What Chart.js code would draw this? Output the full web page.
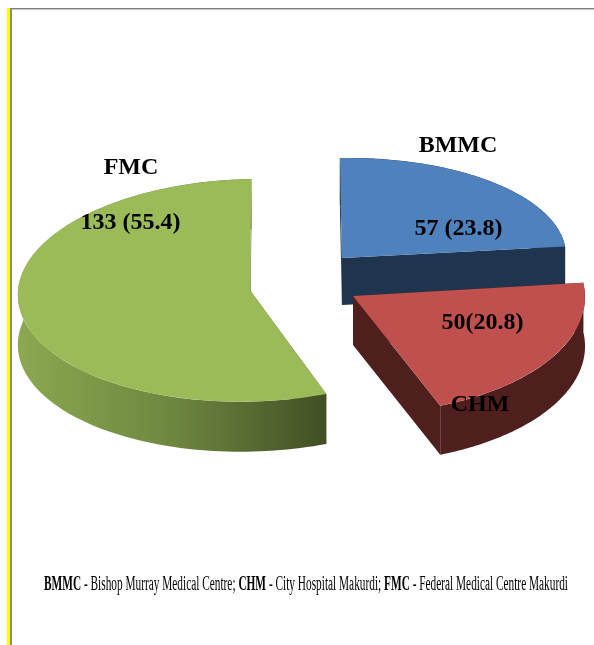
<!DOCTYPE html>
<html>
<head>
<meta charset="utf-8">
<style>
html,body{margin:0;padding:0;background:#fff;width:594px;height:645px;overflow:hidden}
#wrap{position:relative;width:594px;height:645px}
canvas{position:absolute;left:0;top:0}
.f{position:absolute}
</style>
<script src="https://cdn.jsdelivr.net/npm/chart.js@4"></script>
</head>
<body>
<div id="wrap">
<div class="f" style="left:7px;top:8px;width:3px;height:637px;background:#ffff00"></div>
<div class="f" style="left:10px;top:8px;width:2px;height:637px;background:#8c8c7c"></div>
<div class="f" style="left:10px;top:8px;width:584px;height:1px;background:#7d7d7d"></div>
<div class="f" style="left:12px;top:9px;width:582px;height:1px;background:#c8c8c8"></div>
<canvas id="c" width="594" height="645"></canvas>
</div>
<script>
// ---- data ----
const categories = ['BMMC', 'CHM', 'FMC'];
const counts = [57, 50, 133];
const valueLabels = ['57 (23.8)', '50(20.8)', '133 (55.4)'];
const captionParts = [
  ['BMMC', true], [' - Bishop Murray Medical Centre; ', false],
  ['CHM', true], [' - City Hospital Makurdi; ', false],
  ['FMC', true], [' - Federal Medical Centre Makurdi', false]
];

// ---- style ----
const topColors = ['#4F81BD', '#C0504D', '#9BBB59'];
const explode = [74.9, 70, 43.9];      // pixels each slice moves out
const RADIUS = 232, ROTATION = -2;
const BASE_SQUASH = 0.46, CENTER_Y = 277;
const view = [
  {sx: 224 / 232, sy: 100 / 232, skew: -0.058, lift: 7, depth: 47},
  {sx: 1, sy: 118 / 232, skew: 0.02, lift: 2.4, depth: 49},
  {sx: 1, sy: 111.4 / 232, skew: -0.085, lift: 9.2, depth: 50}
];
const wallColors = ['#1F344E', '#4F1F1E', null];
const catLabelPos = [[458, 152], [480, 411], [131, 174]];
const valLabelPos = [[458.5, 235], [482.5, 329], [130.5, 229]];
const FONT = 'bold 24px "Liberation Serif"';

function sliceFrame(arc, i) {
  const p = arc.getProps(['x', 'y', 'startAngle', 'endAngle', 'outerRadius'], true);
  const mid = (p.startAngle + p.endAngle) / 2;
  const off = explode[i];
  const X = p.x + Math.cos(mid) * off;
  const v = view[i];
  const Ty = CENTER_Y + BASE_SQUASH * Math.sin(mid) * off + v.lift;
  return {p, X, Ty, v,
    map(a, r) {
      const dx = Math.cos(a) * r * v.sx, dy = Math.sin(a) * r * v.sy;
      return [X + dx + v.skew * dy, Ty + dy];
    }};
}

const pie3d = {
  id: 'pie3d',
  beforeDatasetsDraw(chart) {
    const ctx = chart.ctx;
    const arcs = chart.getDatasetMeta(0).data;
    [2, 0, 1].forEach(i => {
      const arc = arcs[i], f = sliceFrame(arc, i), d = f.v.depth;
      const a0 = f.p.startAngle, a1 = f.p.endAngle, R = f.p.outerRadius;
      // wall fill
      let wall = wallColors[i];
      if (!wall) {
        wall = ctx.createLinearGradient(18, 0, 326, 0);
        wall.addColorStop(0, '#8CA850');
        wall.addColorStop(0.5, '#6E8740');
        wall.addColorStop(1, '#414F24');
      }
      ctx.fillStyle = wall;
      ctx.beginPath();
      const n = 120, pts = [];
      for (let k = 0; k <= n; k++) pts.push(f.map(a0 + (a1 - a0) * k / n, R));
      pts.forEach((q, k) => k ? ctx.lineTo(q[0], q[1]) : ctx.moveTo(q[0], q[1]));
      pts.slice().reverse().forEach(q => ctx.lineTo(q[0], q[1] + d));
      ctx.closePath();
      ctx.fill();
      // cut faces
      [a0, a1].forEach(a => {
        const o = f.map(a, 0), e = f.map(a, R);
        ctx.beginPath();
        ctx.moveTo(o[0], o[1]); ctx.lineTo(e[0], e[1]);
        ctx.lineTo(e[0], e[1] + d); ctx.lineTo(o[0], o[1] + d);
        ctx.closePath();
        ctx.fill();
      });
      // top face, drawn by the library's arc element
      ctx.save();
      ctx.translate(f.X, f.Ty);
      ctx.transform(1, 0, f.v.skew, 1, 0, 0);
      ctx.scale(f.v.sx, f.v.sy);
      ctx.translate(-f.p.x, -f.p.y);
      arc.draw(ctx);
      ctx.restore();
    });
    return false;
  },
  afterDraw(chart) {
    const ctx = chart.ctx;
    ctx.save();
    ctx.fillStyle = '#000';
    ctx.textBaseline = 'alphabetic';
    ctx.textAlign = 'center';
    ctx.font = FONT;
    categories.forEach((c, i) => ctx.fillText(c, catLabelPos[i][0], catLabelPos[i][1]));
    valueLabels.forEach((t, i) => ctx.fillText(t, valLabelPos[i][0], valLabelPos[i][1]));
    // caption, horizontally condensed
    ctx.textAlign = 'left';
    const fonts = b => (b ? 'bold ' : '') + '20px "Liberation Serif"';
    let total = 0;
    captionParts.forEach(([t, b]) => { ctx.font = fonts(b); total += ctx.measureText(t).width; });
    ctx.translate(44, 590);
    ctx.scale(524 / total, 1);
    let x = 0;
    captionParts.forEach(([t, b]) => {
      ctx.font = fonts(b);
      ctx.fillText(t, x, 0);
      x += ctx.measureText(t).width;
    });
    ctx.restore();
  }
};

new Chart(document.getElementById('c'), {
  type: 'pie',
  data: {
    labels: categories,
    datasets: [{
      data: counts,
      backgroundColor: topColors,
      borderWidth: 0,
      offset: 0
    }]
  },
  options: {
    responsive: false,
    animation: false,
    rotation: ROTATION,
    radius: RADIUS,
    layout: {padding: {left: 0, right: 8, top: 0, bottom: 0}},
    plugins: {legend: {display: false}, tooltip: {enabled: false}}
  },
  plugins: [pie3d]
});
</script>
</body>
</html>
